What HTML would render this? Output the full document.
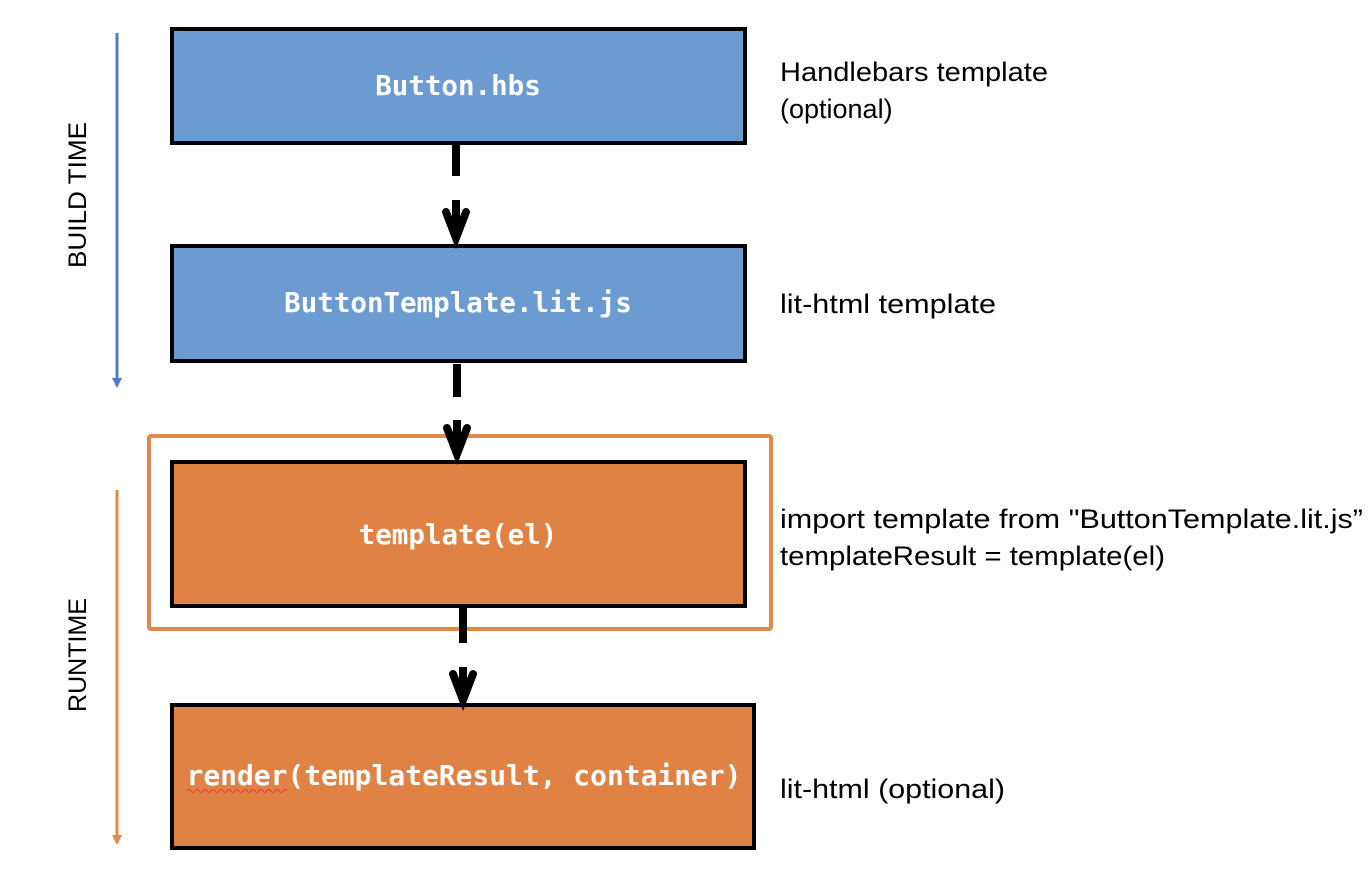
<!DOCTYPE html>
<html><head><meta charset="utf-8"><style>
body{margin:0;background:#fff;width:1368px;height:890px;overflow:hidden}
svg text{font-family:"Liberation Sans",sans-serif}
.m{font-family:"DejaVu Sans Mono","Liberation Mono",monospace;font-weight:bold;fill:#fff;font-size:27.5px}
</style></head><body>
<svg width="1368" height="890" xmlns="http://www.w3.org/2000/svg">
<defs>
<marker id="ab" markerWidth="10" markerHeight="10" refX="8" refY="5" orient="auto" markerUnits="userSpaceOnUse"><path d="M0,0 L10,5 L0,10 Z" fill="#4f7cc8"/></marker>
<marker id="ao" markerWidth="10" markerHeight="10" refX="8" refY="5" orient="auto" markerUnits="userSpaceOnUse"><path d="M0,0 L10,5 L0,10 Z" fill="#e08a4a"/></marker>
</defs>
<line x1="117" y1="33" x2="117" y2="386" stroke="#4f7cc8" stroke-width="3" marker-end="url(#ab)"/>
<line x1="117" y1="490" x2="117" y2="843" stroke="#e08a4a" stroke-width="3" marker-end="url(#ao)"/>
<text transform="translate(86,195) rotate(-90)" text-anchor="middle" font-size="25" textLength="146" lengthAdjust="spacingAndGlyphs">BUILD TIME</text>
<text transform="translate(86,655) rotate(-90)" text-anchor="middle" font-size="25">RUNTIME</text>

<rect x="149" y="436" width="622" height="193" fill="none" stroke="#e08a4a" stroke-width="4" rx="2"/>

<rect x="172" y="29" width="573" height="114" fill="#6b9bd1" stroke="#000" stroke-width="4"/>
<rect x="172" y="246" width="573" height="115" fill="#6b9bd1" stroke="#000" stroke-width="4"/>
<rect x="172" y="462" width="573" height="144" fill="#e08244" stroke="#000" stroke-width="4"/>
<rect x="172" y="705" width="582" height="143" fill="#e08244" stroke="#000" stroke-width="4"/>

<text class="m" x="458" y="95" text-anchor="middle">Button.hbs</text>
<text class="m" x="458" y="312" text-anchor="middle">ButtonTemplate.lit.js</text>
<text class="m" x="458" y="544" text-anchor="middle">template(el)</text>
<text class="m" x="464" y="785" text-anchor="middle" textLength="555" lengthAdjust="spacingAndGlyphs">render(templateResult, container)</text>
<path d="M187,791 q2,-3 4,0 t4,0 t4,0 t4,0 t4,0 t4,0 t4,0 t4,0 t4,0 t4,0 t4,0 t4,0 t4,0 t4,0 t4,0 t4,0 t4,0 t4,0 t4,0 t4,0 t4,0 t4,0 t4,0 t4,0 t4,0" fill="none" stroke="#e33" stroke-width="1"/>

<g stroke="#000" stroke-width="8" fill="none">
<line x1="456" y1="144" x2="456" y2="176"/><line x1="456" y1="200" x2="456" y2="236"/>
<polyline points="446,212 456,238 466,212" stroke-linecap="round" stroke-linejoin="miter"/>
<line x1="457" y1="364" x2="457" y2="397"/><line x1="457" y1="420" x2="457" y2="452"/>
<polyline points="447,428 457,454 467,428" stroke-linecap="round"/>
<line x1="463" y1="608" x2="463" y2="643"/><line x1="463" y1="667" x2="463" y2="698"/>
<polyline points="453,674 463,700 473,674" stroke-linecap="round"/>
</g>

<g font-size="27" fill="#000">
<text x="780" y="81" textLength="268" lengthAdjust="spacingAndGlyphs">Handlebars template</text>
<text x="780" y="118">(optional)</text>
<text x="780" y="313" textLength="216" lengthAdjust="spacingAndGlyphs">lit-html template</text>
<text x="780" y="528" textLength="583" lengthAdjust="spacingAndGlyphs">import template from "ButtonTemplate.lit.js”</text>
<text x="780" y="565" textLength="385" lengthAdjust="spacingAndGlyphs">templateResult = template(el)</text>
<text x="780" y="798" textLength="225" lengthAdjust="spacingAndGlyphs">lit-html (optional)</text>
</g>
</svg>
</body></html>
